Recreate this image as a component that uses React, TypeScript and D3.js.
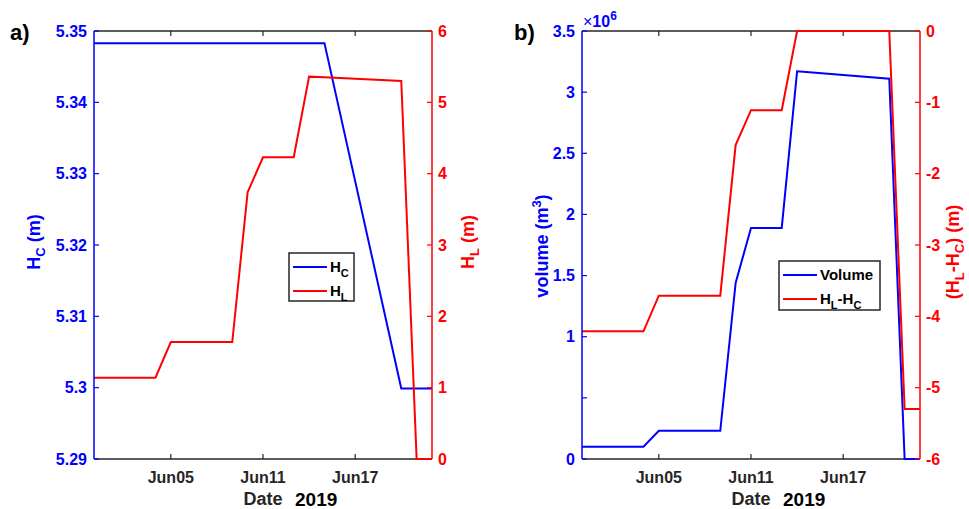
import React from "react";
import * as d3 from "d3";

// ---- data ----
const dateStrings = [
  "2019-05-31", "2019-06-04", "2019-06-05", "2019-06-09", "2019-06-10", "2019-06-11",
  "2019-06-13", "2019-06-14", "2019-06-15", "2019-06-20", "2019-06-21", "2019-06-22",
];
const hC = [5.3483, 5.3483, 5.3483, 5.3483, 5.3483, 5.3483, 5.3483, 5.3483, 5.3483, 5.2999, 5.2999, 5.2999];
const hL = [1.14, 1.14, 1.64, 1.64, 3.74, 4.23, 4.23, 5.36, 5.35, 5.3, 0, 0];
const volume = [0.1, 0.1, 0.23, 0.23, 1.44, 1.89, 1.89, 3.17, 3.16, 3.11, 0, 0]; // x 1e6
const hLminusHC = [-4.21, -4.21, -3.71, -3.71, -1.6, -1.11, -1.11, 0, 0, 0, -5.3, -5.3];

const xDomain = ["2019-05-31", "2019-06-22"];
const xTickDates = ["2019-06-05", "2019-06-11", "2019-06-17"];

const hcTicks = [5.29, 5.3, 5.31, 5.32, 5.33, 5.34, 5.35];
const hlTicks = [0, 1, 2, 3, 4, 5, 6];
const volTicks = [0, 0.5, 1, 1.5, 2, 2.5, 3, 3.5];
const volTickLabels = ["0", "", "1", "1.5", "2", "2.5", "3", "3.5"];
const diffTicks = [-6, -5, -4, -3, -2, -1, 0];

const BLUE = "#0000ff";
const RED = "#ff0000";
const AX = "#262626";
const FONT = "'Liberation Sans', Arial, sans-serif";

const parse = d3.timeParse("%Y-%m-%d");
const dates = dateStrings.map((s) => parse(s) as Date);

const TOP = 31;
const BOTTOM = 459;

type Sub = { t: string; sub?: boolean; sup?: boolean };

function RichText({ parts, size, subSize }: { parts: Sub[]; size: number; subSize: number }) {
  let shift = 0;
  return (
    <>
      {parts.map((p, i) => {
        const target = p.sub ? size * 0.3 : p.sup ? -size * 0.4 : 0;
        const dy = target - shift;
        shift = target;
        return (
          <tspan key={i} dy={dy} fontSize={p.sub || p.sup ? subSize : size}>
            {p.t}
          </tspan>
        );
      })}
    </>
  );
}

function Panel(props: {
  x0: number;
  x1: number;
  yL: d3.ScaleLinear<number, number>;
  yR: d3.ScaleLinear<number, number>;
  lTicks: number[];
  lLabels: string[];
  rTicks: number[];
  rLabels: string[];
  lSeries: number[];
  rSeries: number[];
  lLabel: Sub[];
  rLabel: Sub[];
  lLabelX: number;
  rLabelX: number;
  lLabelY: number;
  rLabelY: number;
  letter: string;
  letterX: number;
  legend: { x: number; y: number; w: number; h: number; items: Sub[][] };
}) {
  const { x0, x1, yL, yR } = props;
  const x = d3.scaleTime().domain(xDomain.map((s) => parse(s) as Date)).range([x0, x1]);
  const fmt = d3.timeFormat("%b%d");
  const lineL = d3
    .line<number>()
    .x((_, i) => x(dates[i]))
    .y((d) => yL(d));
  const lineR = d3
    .line<number>()
    .x((_, i) => x(dates[i]))
    .y((d) => yR(d));
  const clipId = "clip" + x0;
  const tl = 5;
  const lg = props.legend;
  return (
    <g>
      <defs>
        <clipPath id={clipId}>
          <rect x={x0} y={TOP - 1} width={x1 - x0} height={BOTTOM - TOP + 2} />
        </clipPath>
      </defs>
      <line x1={x0} x2={x1} y1={TOP} y2={TOP} stroke={AX} strokeWidth={1.5} />
      <line x1={x0} x2={x1} y1={BOTTOM} y2={BOTTOM} stroke={AX} strokeWidth={1.5} />
      {xTickDates.map((s) => {
        const xv = x(parse(s) as Date);
        return (
          <g key={s}>
            <line x1={xv} x2={xv} y1={BOTTOM} y2={BOTTOM - tl} stroke={AX} strokeWidth={1.2} />
            <line x1={xv} x2={xv} y1={TOP} y2={TOP + tl} stroke={AX} strokeWidth={1.2} />
            <text x={xv} y={483} textAnchor="middle" fontSize={16} fontWeight="bold" fill={AX} fontFamily={FONT}>
              {fmt(parse(s) as Date)}
            </text>
          </g>
        );
      })}
      <text x={(x0 + x1) / 2} y={505} textAnchor="middle" fontSize={18} fontWeight="bold" fill={AX} fontFamily={FONT}>
        Date
      </text>
      <text x={(x0 + x1) / 2 + 32} y={506} textAnchor="start" fontSize={19} fontWeight="bold" fill="#000" fontFamily={FONT}>
        2019
      </text>

      <g clipPath={`url(#${clipId})`}>
        <path d={lineL(props.lSeries) || ""} fill="none" stroke={BLUE} strokeWidth={2} />
        <path d={lineR(props.rSeries) || ""} fill="none" stroke={RED} strokeWidth={2} />
      </g>

      <line x1={x0} x2={x0} y1={TOP} y2={BOTTOM} stroke={BLUE} strokeWidth={1.5} />
      {props.lTicks.map((t, i) => (
        <g key={"l" + i}>
          <line x1={x0} x2={x0 + tl} y1={yL(t)} y2={yL(t)} stroke={BLUE} strokeWidth={1.2} />
          <text x={x0 - 7} y={yL(t) + 5.5} textAnchor="end" fontSize={16} fontWeight="bold" fill={BLUE} fontFamily={FONT}>
            {props.lLabels[i]}
          </text>
        </g>
      ))}
      <line x1={x1} x2={x1} y1={TOP} y2={BOTTOM} stroke={RED} strokeWidth={1.5} />
      {props.rTicks.map((t, i) => (
        <g key={"r" + i}>
          <line x1={x1} x2={x1 - tl} y1={yR(t)} y2={yR(t)} stroke={RED} strokeWidth={1.2} />
          <text x={x1 + 6} y={yR(t) + 5.5} textAnchor="start" fontSize={16} fontWeight="bold" fill={RED} fontFamily={FONT}>
            {props.rLabels[i]}
          </text>
        </g>
      ))}

      <text
        transform={`translate(${props.lLabelX},${props.lLabelY}) rotate(-90)`}
        textAnchor="middle"
        fontWeight="bold"
        fill={BLUE}
        fontFamily={FONT}
        fontSize={18}
      >
        <RichText parts={props.lLabel} size={18} subSize={13} />
      </text>
      <text
        transform={`translate(${props.rLabelX},${props.rLabelY}) rotate(-90)`}
        textAnchor="middle"
        fontWeight="bold"
        fill={RED}
        fontFamily={FONT}
        fontSize={18}
      >
        <RichText parts={props.rLabel} size={18} subSize={13} />
      </text>

      <text x={props.letterX} y={40} fontSize={22} fontWeight="bold" fill="#000" fontFamily={FONT}>
        {props.letter}
      </text>

      <rect x={lg.x} y={lg.y} width={lg.w} height={lg.h} fill="#fff" stroke={AX} strokeWidth={1.5} />
      {lg.items.map((it, i) => {
        const yy = lg.y + 14 + i * 24;
        return (
          <g key={"lg" + i}>
            <line x1={lg.x + 4} x2={lg.x + 38} y1={yy} y2={yy} stroke={i === 0 ? BLUE : RED} strokeWidth={2} />
            <text x={lg.x + 41} y={yy + 5} fontSize={15} fontWeight="bold" fill="#000" fontFamily={FONT}>
              <RichText parts={it} size={15} subSize={11} />
            </text>
          </g>
        );
      })}
    </g>
  );
}

export default function App() {
  const yHC = d3.scaleLinear().domain([5.29, 5.35]).range([BOTTOM, TOP]);
  const yHL = d3.scaleLinear().domain([0, 6]).range([BOTTOM, TOP]);
  const yVol = d3.scaleLinear().domain([0, 3.5]).range([BOTTOM, TOP]);
  const yDiff = d3.scaleLinear().domain([-6, 0]).range([BOTTOM, TOP]);
  const f2 = (v: number) => String(+v.toFixed(2));
  return (
    <svg
      width={969}
      height={509}
      style={{ position: "absolute", left: 0, top: 0, display: "block", background: "#fff" }}
    >
      <rect x={0} y={0} width={969} height={509} fill="#fff" />
      <Panel
        x0={94}
        x1={432}
        yL={yHC}
        yR={yHL}
        lTicks={hcTicks}
        lLabels={hcTicks.map(f2)}
        rTicks={hlTicks}
        rLabels={hlTicks.map(String)}
        lSeries={hC}
        rSeries={hL}
        lLabel={[{ t: "H" }, { t: "C", sub: true }, { t: " (m)" }]}
        rLabel={[{ t: "H" }, { t: "L", sub: true }, { t: " (m)" }]}
        lLabelX={40}
        lLabelY={242}
        rLabelX={474}
        rLabelY={242}
        letter="a)"
        letterX={10}
        legend={{
          x: 289,
          y: 253,
          w: 65,
          h: 48,
          items: [
            [{ t: "H" }, { t: "C", sub: true }],
            [{ t: "H" }, { t: "L", sub: true }],
          ],
        }}
      />
      <Panel
        x0={582}
        x1={920}
        yL={yVol}
        yR={yDiff}
        lTicks={volTicks}
        lLabels={volTickLabels}
        rTicks={diffTicks}
        rLabels={diffTicks.map(String)}
        lSeries={volume}
        rSeries={hLminusHC}
        lLabel={[{ t: "volume (m" }, { t: "3", sup: true }, { t: ")" }]}
        rLabel={[{ t: "(H" }, { t: "L", sub: true }, { t: "-H" }, { t: "C", sub: true }, { t: ") (m)" }]}
        lLabelX={548}
        lLabelY={246}
        rLabelX={959}
        rLabelY={252}
        letter="b)"
        letterX={514}
        legend={{
          x: 779,
          y: 261,
          w: 101,
          h: 49,
          items: [
            [{ t: "Volume" }],
            [{ t: "H" }, { t: "L", sub: true }, { t: "-H" }, { t: "C", sub: true }],
          ],
        }}
      />
      <text x={583} y={27} fill={BLUE} fontFamily={FONT} fontSize={16}>
        <tspan>×</tspan>
        <tspan fontWeight="bold">10</tspan>
        <tspan fontWeight="bold" fontSize={12} dy={-7}>
          6
        </tspan>
      </text>
    </svg>
  );
}
